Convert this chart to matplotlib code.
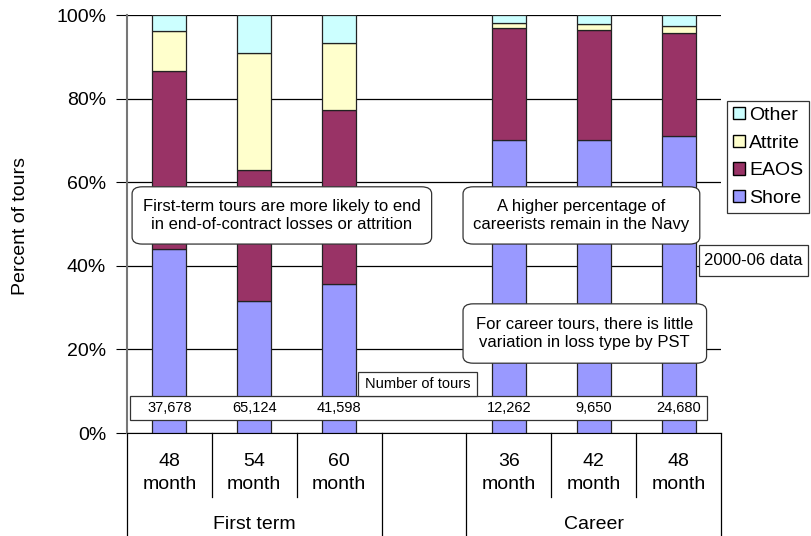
import numpy as np
import matplotlib
matplotlib.use("Agg")
import matplotlib.pyplot as plt
from matplotlib.patches import FancyBboxPatch, Rectangle, Patch

plt.rcParams['font.family'] = ['Liberation Sans', 'DejaVu Sans']

# data (percent of tours)
months = ["48", "54", "60", "", "36", "42", "48"]
groups = ["First term", "Career"]
shore = [43.9, 31.5, 35.6, 0, 70.0, 70.1, 71.0]
eaos = [42.7, 31.4, 41.7, 0, 27.0, 26.3, 24.6]
attrite = [9.6, 27.9, 16.0, 0, 1.0, 1.4, 1.8]
other = [3.8, 9.2, 6.7, 0, 2.0, 2.2, 2.6]
n_tours = ["37,678", "65,124", "41,598", "", "12,262", "9,650", "24,680"]

colors = {"Shore": "#9999FF", "EAOS": "#993366", "Attrite": "#FFFFCC", "Other": "#CCFFFF"}

fig = plt.figure(figsize=(8.11, 5.36), dpi=100)
ax = fig.add_axes([127/811, 1-433/536, (721-127)/811, (433-15)/536])

x = np.arange(len(months))
has = np.array([m != "" for m in months])
xs = x[has]
bottom = np.zeros(has.sum())
for name, vals in [("Shore", shore), ("EAOS", eaos), ("Attrite", attrite), ("Other", other)]:
    v = np.array(vals)[has]
    ax.bar(xs, v, 0.4, bottom=bottom, color=colors[name], edgecolor="#222222", linewidth=0.9, zorder=3)
    bottom += v

ax.set_xlim(-0.5, 6.5)
ax.set_ylim(0, 100)
ax.set_yticks(np.arange(0, 101, 20))
ax.set_yticklabels([f"{t}%" for t in range(0, 101, 20)], fontsize=14)
ax.yaxis.grid(True, color="black", linewidth=0.9, zorder=0)
ax.set_axisbelow(True)
for s in ["top", "right"]:
    ax.spines[s].set_visible(False)
ax.spines["left"].set_color("#777777")
ax.spines["left"].set_linewidth(1.5)
ax.spines["bottom"].set_color("black")
ax.tick_params(axis="y", length=8, direction="out", pad=7, color="black")
ax.set_xticks([])
ax.set_ylabel("Percent of tours", fontsize=14)
ax.yaxis.set_label_coords(-0.165, 0.495)

# hierarchical x axis
tr = ax.get_xaxis_transform()
for b in np.arange(-0.5, 7, 1):
    outer = b in (-0.5, 2.5, 3.5, 6.5)
    y_end = -0.25 if outer else -0.153
    ax.plot([b, b], [0, y_end], transform=tr, color="black", lw=0.9, clip_on=False)
for i, m in enumerate(months):
    if m:
        ax.text(i, -0.069, m, transform=tr, ha="center", va="center", fontsize=14)
        ax.text(i, -0.124, "month", transform=tr, ha="center", va="center", fontsize=14)
ax.text(1, -0.218, groups[0], transform=tr, ha="center", va="center", fontsize=14)
ax.text(5, -0.218, groups[1], transform=tr, ha="center", va="center", fontsize=14)

# number of tours row
ax.add_patch(Rectangle((-0.465, 3.1), 6.8, 5.8, facecolor="white", edgecolor="#333333", lw=0.9, zorder=5))
for i, n in enumerate(n_tours):
    ax.text(i, 6.0, n, ha="center", va="center", fontsize=10.5, zorder=6)
ax.add_patch(Rectangle((2.22, 8.9), 1.41, 5.7, facecolor="white", edgecolor="#333333", lw=0.9, zorder=5))
ax.text(2.925, 11.75, "Number of tours", ha="center", va="center", fontsize=10.5, zorder=6)

# callout boxes
def callout(x0, y0, x1, y1, txt):
    ax.add_patch(FancyBboxPatch((x0, y0), x1-x0, y1-y0, boxstyle="round,pad=0,rounding_size=0.12",
                                mutation_aspect=14, facecolor="white", edgecolor="#333333", lw=0.9, zorder=5))
    ax.text((x0+x1)/2, (y0+y1)/2, txt, ha="center", va="center", fontsize=12,
            linespacing=1.25, zorder=6)

callout(-0.44, 45.2, 3.09, 58.9, "First-term tours are more likely to end\nin end-of-contract losses or attrition")
callout(3.46, 45.2, 6.25, 58.9, "A higher percentage of\ncareerists remain in the Navy")
callout(3.46, 16.7, 6.33, 30.9, "For career tours, there is little\nvariation in loss type by PST")

ax.add_patch(Rectangle((6.24, 37.6), 1.28, 7.4, facecolor="white", edgecolor="#333333", lw=0.9,
                       zorder=5, clip_on=False))
ax.text(6.88, 41.3, "2000-06 data", ha="center", va="center", fontsize=12, zorder=6)

handles = [Patch(facecolor=colors[k], edgecolor="black", label=k) for k in ["Other", "Attrite", "EAOS", "Shore"]]
leg = fig.legend(handles=handles, loc="upper left", bbox_to_anchor=(727/811, 1-101/536),
                 fontsize=14, frameon=True, fancybox=False, edgecolor="black",
                 handlelength=0.6, handleheight=0.6, handletextpad=0.25, labelspacing=0.55,
                 borderpad=0.3, borderaxespad=0)
leg.get_frame().set_linewidth(0.9)

fig.savefig("out.png", dpi=100)
